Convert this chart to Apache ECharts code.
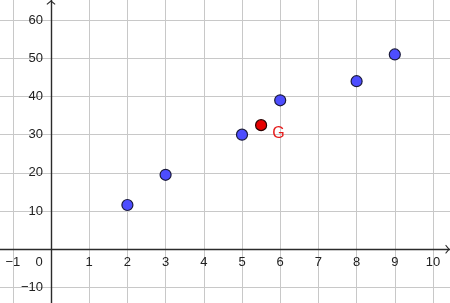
<!DOCTYPE html>
<html>
<head>
<meta charset="utf-8">
<script src="https://cdn.jsdelivr.net/npm/echarts@6/dist/echarts.min.js"></script>
<style>
html,body{margin:0;padding:0;background:#fff;}
#c{width:450px;height:303px;}
</style>
</head>
<body>
<div id="c"></div>
<script>
// Data
const xs = [2, 3, 5, 6, 8, 9];
const ys = [11.6, 19.5, 30, 39, 44, 51];
const gPoint = [5.5, 32.5];
const gName = 'G';
const xRange = [-1.335, 10.445];
const yRange = [-14.05, 65.25];

const fmtNum = v => (v < 0 ? '\u2212' + Math.abs(v) : String(v));
const chevron = 'path://M5,0 L10,4.2 L9.2,5 L5,1.6 L0.8,5 L0,4.2 Z';
const FONT = 'Liberation Sans, Arial, sans-serif';

const el = document.getElementById('c');
const chart = echarts.init(el, null, {renderer: 'canvas'});
chart.setOption({
  animation: false,
  backgroundColor: '#ffffff',
  grid: {left: 0, right: 0, top: 0, bottom: 0, containLabel: false, outerBoundsMode: 'none'},
  xAxis: {
    type: 'value', min: xRange[0], max: xRange[1],
    minInterval: 1, maxInterval: 1, splitNumber: 12,
    axisLine: {onZero: false, lineStyle: {color: '#2b2b2b', width: 1.4},
      symbol: ['none', chevron], symbolSize: [9, 5], symbolOffset: [0, -2.5]},
    axisTick: {show: false},
    axisLabel: {
      showMinLabel: false, showMaxLabel: false, margin: 7, hideOverlap: false,
      color: '#222', fontSize: 13, fontFamily: FONT,
      formatter: v => (Math.abs(v - Math.round(v)) > 1e-6 ? '' : (v === 0 ? '{z|0}' : fmtNum(v))),
      rich: {z: {fontSize: 13, color: '#222', fontFamily: FONT, padding: [0, 24, 0, 0]}}
    },
    splitLine: {show: true, showMinLine: false, showMaxLine: false, lineStyle: {color: '#c8c8c8', width: 1}}
  },
  yAxis: {
    type: 'value', min: yRange[0], max: yRange[1],
    minInterval: 10, maxInterval: 10, splitNumber: 8,
    axisLine: {onZero: false, lineStyle: {color: '#2b2b2b', width: 1.4},
      symbol: ['none', chevron], symbolSize: [9, 5], symbolOffset: [0, -2.5]},
    axisTick: {show: false},
    axisLabel: {
      showMinLabel: false, showMaxLabel: false, margin: 8, hideOverlap: false,
      color: '#222', fontSize: 13, fontFamily: FONT,
      formatter: v => (v === 0 || Math.abs(v / 10 - Math.round(v / 10)) > 1e-6 ? '' : fmtNum(v))
    },
    splitLine: {show: true, showMinLine: false, showMaxLine: false, lineStyle: {color: '#c8c8c8', width: 1}}
  },
  series: [
    {
      type: 'scatter', symbol: 'circle', symbolSize: 11,
      data: xs.map((x, i) => [x, ys[i]]),
      itemStyle: {color: '#4d4dff', borderColor: '#1a1a3a', borderWidth: 1.2, opacity: 1},
      z: 5
    },
    {
      type: 'scatter', symbol: 'circle', symbolSize: 11,
      data: [{name: gName, value: gPoint}],
      itemStyle: {color: '#e60000', borderColor: '#2a0000', borderWidth: 1.2, opacity: 1},
      label: {show: true, formatter: '{b}', position: 'right', distance: 5, offset: [0, 8],
        color: '#e61a1a', fontSize: 16, fontFamily: FONT},
      z: 6
    }
  ]
});
// Move both axes onto the origin, using the library's own scales
const x0 = chart.convertToPixel({xAxisIndex: 0}, 0);
const y0 = chart.convertToPixel({yAxisIndex: 0}, 0);
chart.setOption({
  xAxis: {offset: -(el.clientHeight - y0)},
  yAxis: {offset: -x0}
});
</script>
</body>
</html>
